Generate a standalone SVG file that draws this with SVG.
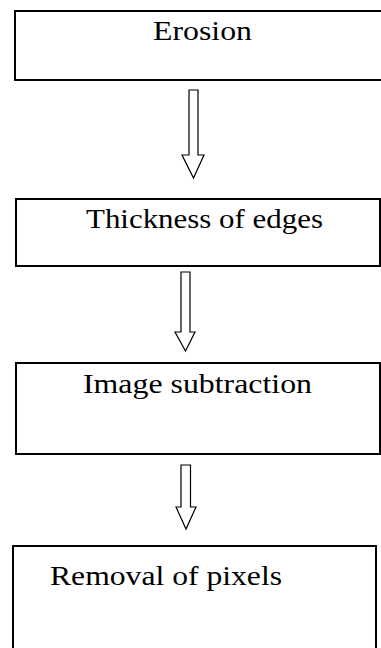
<svg xmlns="http://www.w3.org/2000/svg" width="381" height="648" viewBox="0 0 381 648">
<style>
.box{fill:#fff;stroke:#000;stroke-width:2}
.lbl{font-family:'Liberation Serif','Times New Roman',Times,serif;font-size:27px;fill:#000}
.arr{fill:#fff;stroke:#000;stroke-width:1.2;stroke-linejoin:miter}
</style>
<rect width="381" height="648" fill="#fff"/>
<g id="node-erosion">
<rect class="box" x="15" y="11" width="380" height="69"/>
<text class="lbl" font-family="Liberation Serif, serif" x="153" y="40" textLength="99" lengthAdjust="spacingAndGlyphs">Erosion</text>
</g>
<g id="node-thickness">
<rect class="box" x="16" y="199" width="364" height="67"/>
<text class="lbl" font-family="Liberation Serif, serif" x="86" y="228" textLength="237" lengthAdjust="spacingAndGlyphs">Thickness of edges</text>
</g>
<g id="node-subtraction">
<rect class="box" x="16" y="363" width="364" height="91"/>
<text class="lbl" font-family="Liberation Serif, serif" x="83" y="393" textLength="229" lengthAdjust="spacingAndGlyphs">Image subtraction</text>
</g>
<g id="node-removal">
<rect class="box" x="13" y="546" width="363" height="110"/>
<text class="lbl" font-family="Liberation Serif, serif" x="50" y="585" textLength="232" lengthAdjust="spacingAndGlyphs">Removal of pixels</text>
</g>
<g id="connectors">
<polygon class="arr" points="189,90 198,90 198,155 204,155 193.5,178 182,155 189,155"/>
<polygon class="arr" points="181,272 190,272 190,332 195,332 185.5,351 175,332 181,332"/>
<polygon class="arr" points="181,465 190.5,465 190.5,507 196,507 186,529 176,507 181,507"/>
</g>
</svg>
